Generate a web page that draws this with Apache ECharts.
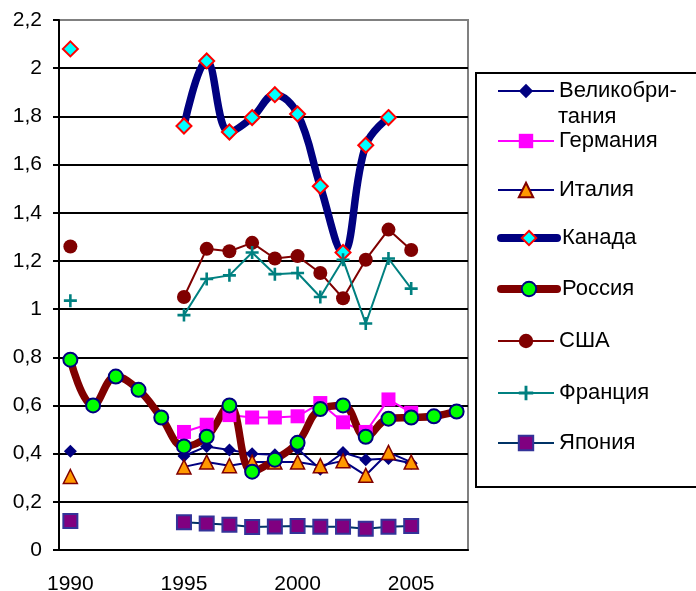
<!DOCTYPE html>
<html>
<head>
<meta charset="utf-8">
<script src="https://cdn.jsdelivr.net/npm/echarts@6/dist/echarts.min.js"></script>
<style>
html,body{margin:0;padding:0;background:#fff;}
#chart{width:696px;height:591px;}
</style>
</head>
<body>
<div id="chart"></div>
<script>
const years = ['1990','1991','1992','1993','1994','1995','1996','1997','1998','1999','2000','2001','2002','2003','2004','2005','2006','2007'];
const yTicks = [0, 0.2, 0.4, 0.6, 0.8, 1, 1.2, 1.4, 1.6, 1.8, 2, 2.2];
const uk      = [0.41, null, null, null, null, 0.39, 0.43, 0.415, 0.40, 0.395, 0.42, 0.335, 0.405, 0.375, 0.38, 0.36, null, null];
const germany = [null, null, null, null, null, 0.49, 0.52, 0.56, 0.55, 0.55, 0.555, 0.61, 0.53, 0.49, 0.625, 0.57, null, null];
const italy   = [0.305, null, null, null, null, 0.345, 0.365, 0.35, 0.365, 0.365, 0.365, 0.35, 0.37, 0.31, 0.405, 0.365, null, null];
const canada  = [2.08, null, null, null, null, 1.76, 2.03, 1.735, 1.795, 1.89, 1.81, 1.51, 1.235, 1.68, 1.795, null, null, null];
const russia  = [0.79, 0.60, 0.72, 0.665, 0.55, 0.43, 0.47, 0.60, 0.325, 0.375, 0.445, 0.585, 0.60, 0.47, 0.545, 0.55, 0.555, 0.575];
const usa     = [1.26, null, null, null, null, 1.05, 1.25, 1.24, 1.275, 1.21, 1.22, 1.15, 1.045, 1.205, 1.33, 1.245, null, null];
const france  = [1.035, null, null, null, null, 0.975, 1.125, 1.14, 1.235, 1.145, 1.15, 1.05, 1.205, 0.94, 1.21, 1.085, null, null];
const japan   = [0.12, null, null, null, null, 0.115, 0.11, 0.105, 0.095, 0.098, 0.10, 0.097, 0.097, 0.088, 0.097, 0.10, null, null];
const names = ['Великобритания','Германия','Италия','Канада','Россия','США','Франция','Япония'];

const FONT = '"Liberation Sans", Arial, sans-serif';
const plus = 'path://M4,0h2v4h4v2h-4v4h-2v-4h-4v-2h4z';

function mk(name, data, o) {
  return Object.assign({
    name: name, type: 'line', data: data, showAllSymbol: true,
    connectNulls: false, animation: false,
    emphasis: {disabled: true}
  }, o);
}
const series = [
  mk(names[0], uk, {symbol:'diamond', symbolSize:13, lineStyle:{color:'#000080', width:2}, itemStyle:{color:'#000080'}}),
  mk(names[1], germany, {symbol:'rect', symbolSize:14, lineStyle:{color:'#FF00FF', width:2}, itemStyle:{color:'#FF00FF'}}),
  mk(names[2], italy, {symbol:'triangle', symbolSize:14, lineStyle:{color:'#000080', width:2}, itemStyle:{color:'#FF9900', borderColor:'#800000', borderWidth:1.5}}),
  mk(names[3], canada, {symbol:'diamond', symbolSize:15, smooth:0.4, lineStyle:{color:'#000080', width:7.5}, itemStyle:{color:'#00FFFF', borderColor:'#FF0000', borderWidth:2}}),
  mk(names[4], russia, {symbol:'circle', symbolSize:14, smooth:0.4, lineStyle:{color:'#800000', width:7.5}, itemStyle:{color:'#00FF00', borderColor:'#000080', borderWidth:2}}),
  mk(names[5], usa, {symbol:'circle', symbolSize:14, lineStyle:{color:'#800000', width:2}, itemStyle:{color:'#800000'}}),
  mk(names[6], france, {symbol:plus, symbolSize:13, lineStyle:{color:'#008080', width:2}, itemStyle:{color:'#008080'}}),
  mk(names[7], japan, {symbol:'rect', symbolSize:14, lineStyle:{color:'#003366', width:2}, itemStyle:{color:'#800080', borderColor:'#333399', borderWidth:2}})
];

const legendCenters = [89, 139, 188, 236, 287, 339, 391, 441];
const legends = names.map((n, i) => ({
  data: [n], orient: 'vertical', left: 497, top: legendCenters[i] - 9,
  padding: 0, itemWidth: 56, itemHeight: 18, itemGap: 0, itemTextGap: 5,
  selectedMode: false,
  lineStyle: (i === 3 || i === 4) ? {width: 8, cap: 'round'} : {width: 2},
  textStyle: {fontFamily: FONT, fontSize: 22, color: '#000', lineHeight: 18},
  formatter: (name) => name === 'Великобритания' ? 'Великобри-' : name
}));

const chart = echarts.init(document.getElementById('chart'), null, {renderer: 'canvas'});
chart.setOption({
  animation: false,
  backgroundColor: '#fff',
  textStyle: {fontFamily: FONT},
  grid: {left: 59, right: 228, top: 20, bottom: 41, containLabel: false, outerBoundsMode: 'none',
    show: true, borderColor: '#808080', borderWidth: 2, backgroundColor: 'transparent'},
  legend: legends,
  graphic: [
    {type: 'rect', shape: {x: 476, y: 73, width: 260, height: 414}, style: {fill: 'none', stroke: '#000', lineWidth: 2}, z: 0},
    {type: 'text', x: 558, y: 117, style: {text: 'тания', fontFamily: FONT, fontSize: 22, fill: '#000', verticalAlign: 'middle'}}
  ],
  xAxis: {
    type: 'category', data: years, boundaryGap: true,
    axisLine: {lineStyle: {color: '#000', width: 2}},
    axisTick: {interval: 0, length: 6, lineStyle: {color: '#000', width: 2}},
    axisLabel: {interval: 4, margin: 24, fontSize: 21, color: '#000', fontFamily: FONT},
    splitLine: {show: false}
  },
  yAxis: {
    type: 'value', min: yTicks[0], max: yTicks[yTicks.length - 1], interval: 0.2,
    axisLine: {show: true, lineStyle: {color: '#000', width: 2}},
    axisTick: {show: true, length: 6, lineStyle: {color: '#000', width: 2}},
    axisLabel: {margin: 17, fontSize: 21, color: '#000', fontFamily: FONT,
      formatter: v => String(+v.toFixed(1)).replace('.', ',')},
    splitLine: {show: true, showMaxLine: false, lineStyle: {color: '#000', width: 2}}
  },
  series: series
});
</script>
</body>
</html>
